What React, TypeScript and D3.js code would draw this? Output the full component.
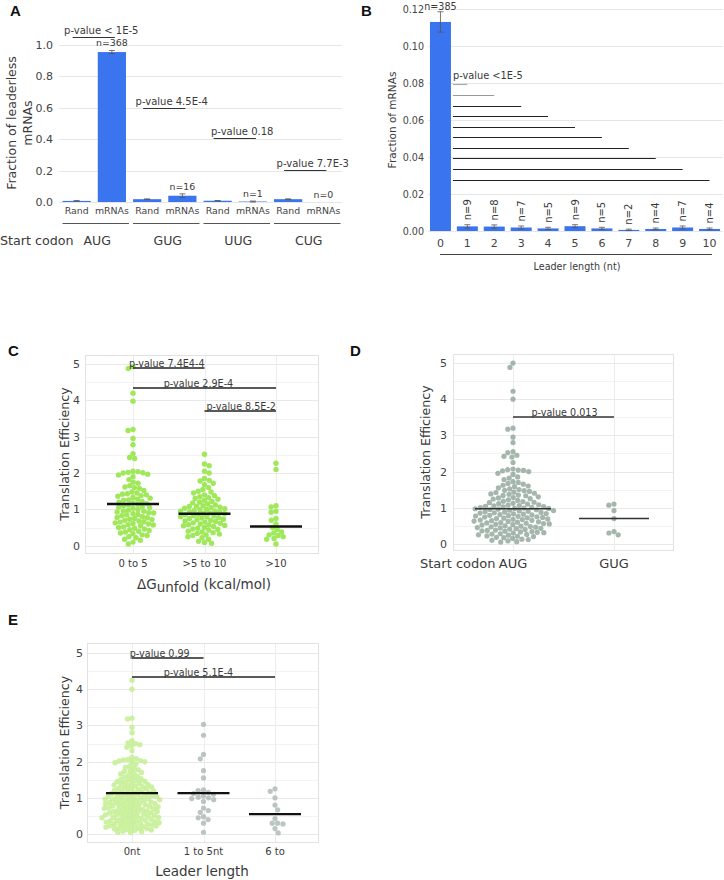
import React, { useEffect, useRef } from "react";
import * as d3 from "d3";

const FONT = "'DejaVu Sans', Verdana, sans-serif";
const BLUE = "#3b74ef";
const TXT = "#3a3a3a";

// ---- panel A : start codon of leaderless mRNAs
const startCodons = ["AUG", "GUG", "UUG", "CUG"];
const sampleTypes = ["Rand", "mRNAs"];
const randFraction = [0.007, 0.018, 0.008, 0.018];
const randErr = [0.002, 0.002, 0.001, 0.002];
const mrnaFraction = [0.955, 0.04, 0.003, 0];
const mrnaErr = [0.01, 0.012, 0.003, 0];
const mrnaCounts = [368, 16, 1, 0];
const pTextA = ["p-value < 1E-5", "p-value 4.5E-4", "p-value 0.18", "p-value 7.7E-3"];
const pLevelA = [1.05, 0.6, 0.41, 0.205];
const ticksA = [0, 0.2, 0.4, 0.6, 0.8, 1.0];

// ---- panel B : leader length
const leaderLengths = ["0", "1", "2", "3", "4", "5", "6", "7", "8", "9", "10"];
const leaderFraction = [0.113, 0.0025, 0.0024, 0.0019, 0.0014, 0.0026, 0.0014, 0.0006, 0.0011, 0.0019, 0.0011];
const leaderErr = [0.0055, 0.0009, 0.0009, 0.0008, 0.0006, 0.0008, 0.0006, 0.0004, 0.0005, 0.0008, 0.0005];
const leaderCounts = [385, 9, 8, 7, 5, 9, 5, 2, 4, 7, 4];
const pLevelB = [0.0795, 0.0735, 0.0676, 0.0622, 0.0562, 0.0508, 0.0449, 0.0395, 0.0335, 0.0276];
const ticksB = [0, 0.02, 0.04, 0.06, 0.08, 0.1, 0.12];

// ---- panel C : dG unfold
const dgGroups = ["0 to 5", ">5 to 10", ">10"];
const teDg0to5 = [4.93, 4.88, 4.2, 3.98, 3.2, 3.17, 2.95, 2.78, 2.53, 2.43, 2.4,
  2.05, 2.04, 2.02, 2.01, 2.0, 1.97, 1.95, 1.9, 1.82, 1.75, 1.72, 1.65, 1.62, 1.6, 1.58,
  1.52, 1.48, 1.45, 1.43, 1.42, 1.4, 1.38, 1.36, 1.33, 1.31, 1.28, 1.26, 1.25, 1.22, 1.2,
  1.18, 1.16, 1.14, 1.12, 1.1, 1.08, 1.06, 1.05, 1.03, 1.0, 0.98, 0.96, 0.95, 0.93, 0.91,
  0.9, 0.88, 0.86, 0.85, 0.83, 0.8, 0.78, 0.77, 0.75, 0.73, 0.72, 0.7, 0.68, 0.66, 0.65,
  0.63, 0.61, 0.6, 0.58, 0.57, 0.55, 0.52, 0.5, 0.48, 0.46, 0.44, 0.42, 0.4, 0.38, 0.35,
  0.33, 0.3, 0.28, 0.25, 0.22, 0.18, 0.15, 0.1, 0.05];
const teDg5to10 = [2.52, 2.25, 2.2, 2.05, 2.0, 1.85, 1.8, 1.78, 1.72, 1.68, 1.6, 1.55, 1.5,
  1.48, 1.45, 1.4, 1.38, 1.35, 1.32, 1.3, 1.28, 1.25, 1.22, 1.2, 1.18, 1.15, 1.12, 1.1, 1.09,
  1.08, 1.06, 1.05, 1.03, 1.02, 1.0, 0.99, 0.97, 0.96, 0.95, 0.93, 0.92, 0.9, 0.89, 0.88,
  0.86, 0.85, 0.83, 0.82, 0.8, 0.79, 0.78, 0.76, 0.75, 0.73, 0.72, 0.7, 0.68, 0.67, 0.65,
  0.63, 0.62, 0.6, 0.58, 0.57, 0.56, 0.55, 0.53, 0.5, 0.48, 0.46, 0.45, 0.43, 0.4, 0.38,
  0.36, 0.34, 0.32, 0.3, 0.28, 0.25, 0.22, 0.18, 0.12, 0.09, 0.07];
const teDgOver10 = [2.27, 2.1, 1.1, 1.07, 0.95, 0.92, 0.75, 0.7, 0.6, 0.5, 0.45, 0.38, 0.35,
  0.3, 0.28, 0.25, 0.2, 0.18, 0.05];
const dgMeans = [1.15, 0.88, 0.53];
const dgPValues = ["p-value 7.4E4-4", "p-value 2.9E-4", "p-value 8.5E-2"];
const dgPLevels = [4.89, 4.34, 3.71];

// ---- panel D : start codon TE
const codonGroups = ["AUG", "GUG"];
const teAug = [5.0, 4.88, 4.22, 4.0, 3.2, 3.17, 2.95, 2.8, 2.55, 2.52, 2.45, 2.42, 2.4, 2.25,
  2.07, 2.05, 2.04, 2.03, 2.02, 2.0, 1.95, 1.92, 1.85, 1.82, 1.78, 1.72, 1.7, 1.67, 1.65,
  1.62, 1.6, 1.58, 1.55, 1.52, 1.5, 1.48, 1.47, 1.45, 1.43, 1.42, 1.4, 1.38, 1.37, 1.35,
  1.34, 1.33, 1.3, 1.28, 1.27, 1.25, 1.24, 1.22, 1.2, 1.18, 1.17, 1.15, 1.14, 1.12, 1.11,
  1.1, 1.08, 1.07, 1.06, 1.05, 1.04, 1.03, 1.02, 1.01, 1.0, 0.99, 0.98, 0.98, 0.97, 0.96,
  0.95, 0.94, 0.93, 0.92, 0.91, 0.9, 0.89, 0.88, 0.87, 0.86, 0.85, 0.84, 0.83, 0.82, 0.81,
  0.8, 0.79, 0.78, 0.77, 0.76, 0.75, 0.74, 0.73, 0.72, 0.71, 0.7, 0.69, 0.68, 0.67, 0.66,
  0.65, 0.64, 0.63, 0.62, 0.61, 0.6, 0.59, 0.58, 0.57, 0.56, 0.55, 0.54, 0.53, 0.52, 0.5,
  0.49, 0.48, 0.47, 0.46, 0.45, 0.44, 0.43, 0.42, 0.41, 0.4, 0.38, 0.37, 0.36, 0.35, 0.34,
  0.33, 0.32, 0.31, 0.3, 0.28, 0.27, 0.26, 0.25, 0.24, 0.22, 0.21, 0.2, 0.18, 0.17, 0.15,
  0.13, 0.12, 0.1, 0.08, 0.06, 0.05];
const teGug = [1.1, 1.07, 0.92, 0.7, 0.34, 0.3, 0.25];
const codonMeans = [0.97, 0.7];
const codonPLevel = 3.51;

// ---- panel E : leader length TE
const leaderGroups = ["0nt", "1 to 5nt", "6 to"];
const te0nt = [4.25, 4.0, 3.2, 3.18, 2.95, 2.8, 2.58, 2.52, 2.5, 2.47, 2.44, 2.4, 2.3, 2.12,
  2.08, 2.06, 2.05, 2.03, 2.02, 2.0, 1.99, 1.97, 1.93, 1.88, 1.85, 1.82, 1.78, 1.75, 1.73,
  1.7, 1.68, 1.66, 1.63, 1.6, 1.58, 1.56, 1.53, 1.51, 1.5, 1.48, 1.46, 1.45, 1.43, 1.41, 1.4,
  1.38, 1.37, 1.36, 1.34, 1.33, 1.31, 1.3, 1.29, 1.27, 1.26, 1.25, 1.23, 1.22, 1.21, 1.19,
  1.18, 1.17, 1.15, 1.14, 1.13, 1.12, 1.1, 1.09, 1.08, 1.07, 1.06, 1.05, 1.04, 1.03, 1.02,
  1.01, 1.0, 0.99, 0.98, 0.97, 0.96, 0.95, 0.94, 0.93, 0.92, 0.91, 0.9, 0.89, 0.88, 0.87,
  0.86, 0.85, 0.84, 0.83, 0.82, 0.81, 0.8, 0.79, 0.78, 0.77, 0.76, 0.75, 0.74, 0.73, 0.72,
  0.71, 0.7, 0.69, 0.68, 0.67, 0.66, 0.65, 0.64, 0.63, 0.62, 0.61, 0.6, 0.59, 0.58, 0.57,
  0.56, 0.55, 0.54, 0.53, 0.52, 0.51, 0.5, 0.49, 0.48, 0.47, 0.46, 0.45, 0.44, 0.43, 0.42,
  0.41, 0.4, 0.39, 0.38, 0.37, 0.36, 0.35, 0.34, 0.33, 0.32, 0.31, 0.3, 0.29, 0.28, 0.27,
  0.26, 0.25, 0.24, 0.23, 0.22, 0.21, 0.2, 0.19, 0.18, 0.17, 0.16, 0.15, 0.14, 0.12, 0.11,
  0.1, 0.08, 0.07, 0.05, 0.04];
const te1to5 = [3.03, 2.73, 2.2, 2.08, 1.75, 1.55, 1.22, 1.2, 1.15, 1.12, 1.1, 1.05, 1.02,
  1.0, 0.98, 0.95, 0.9, 0.72, 0.65, 0.6, 0.48, 0.45, 0.4, 0.3, 0.05];
const te6plus = [1.25, 1.18, 1.0, 0.8, 0.67, 0.43, 0.3, 0.3, 0.28, 0.15, 0.03];
const leaderMeans = [1.13, 1.13, 0.55];
const leaderPValues = ["p-value 0.99", "p-value 5.1E-4"];
const leaderPLevels = [4.866, 4.34];

const teTicks = [0, 1, 2, 3, 4, 5];

// simple beeswarm: push each dot sideways until it stops touching the others
function swarm(values: number[], y: (v: number) => number, dist: number) {
  const pts = values.map((v) => ({ v, y: y(v), x: 0 })).sort((a, b) => a.y - b.y);
  const placed: { v: number; y: number; x: number }[] = [];
  pts.forEach((p, i) => {
    const cands = [0];
    placed.forEach((q) => {
      const dy = Math.abs(q.y - p.y);
      if (dy < dist) {
        const dx = Math.sqrt(dist * dist - dy * dy);
        cands.push(q.x + dx, q.x - dx);
      }
    });
    const sgn = i % 2 ? 1 : -1;
    cands.sort((a, b) => Math.abs(a) - Math.abs(b) || sgn * (a - b));
    for (const c of cands) {
      if (placed.every((q) => (q.x - c) ** 2 + (q.y - p.y) ** 2 >= dist * dist - 0.01)) {
        p.x = c;
        break;
      }
    }
    placed.push(p);
  });
  return placed;
}

function panelLetter(svg: any, t: string, x: number, y: number) {
  svg.append("text").attr("x", x).attr("y", y).text(t)
    .attr("font-family", "'Liberation Sans', Arial, sans-serif")
    .attr("font-weight", "bold").attr("font-size", 15).attr("fill", "#111");
}

const crisp = (v: number) => Math.round(v) + 0.5;

function drawPanelA(svg: any) {
  const g = svg.append("g");
  const keys: string[] = [];
  startCodons.forEach((c) => sampleTypes.forEach((s) => keys.push(c + "|" + s)));
  const x = d3.scaleBand().domain(keys).range([59, 341]).paddingInner(0.2).paddingOuter(0.1);
  const y = d3.scaleLinear().domain([0, 1]).range([202, 45]);

  ticksA.forEach((t) => {
    g.append("line").attr("x1", 59).attr("x2", 342).attr("y1", crisp(y(t))).attr("y2", crisp(y(t)))
      .attr("stroke", "#e6e6e6");
    g.append("text").attr("x", 53).attr("y", y(t) + 4).attr("text-anchor", "end")
      .attr("font-size", 11).attr("fill", "#444").text(d3.format(".1f")(t));
  });

  startCodons.forEach((c, i) => {
    const vals = [randFraction[i], mrnaFraction[i]];
    const errs = [randErr[i], mrnaErr[i]];
    sampleTypes.forEach((s, j) => {
      const k = c + "|" + s;
      const bx = x(k) as number;
      g.append("rect").attr("x", bx).attr("width", x.bandwidth())
        .attr("y", y(vals[j])).attr("height", Math.max(0, 202 - y(vals[j]))).attr("fill", BLUE);
      if (errs[j] > 0) {
        const cx = bx + x.bandwidth() / 2;
        g.append("path").attr("d", `M${cx - 3},${y(vals[j] + errs[j])}h6M${cx},${y(vals[j] + errs[j])}V${y(vals[j] - errs[j])}M${cx - 3},${y(vals[j] - errs[j])}h6`)
          .attr("stroke", "#555").attr("stroke-width", 0.8).attr("fill", "none");
      }
      g.append("text").attr("x", bx + x.bandwidth() / 2).attr("y", 214).attr("text-anchor", "middle")
        .attr("font-size", 9.4).attr("fill", "#444").text(s);
    });
    const mx = (x(c + "|mRNAs") as number) + x.bandwidth() / 2;
    g.append("text").attr("x", mx).attr("y", y(mrnaFraction[i] + mrnaErr[i]) - 4)
      .attr("text-anchor", "middle").attr("font-size", 9.4).attr("fill", TXT)
      .text("n=" + mrnaCounts[i]);

    const rx = (x(c + "|Rand") as number) + x.bandwidth() / 2;
    const ly = crisp(y(pLevelA[i]));
    g.append("line").attr("x1", rx - 4).attr("x2", mx + 3).attr("y1", ly).attr("y2", ly)
      .attr("stroke", "#333").attr("stroke-width", 1);
    g.append("text").attr("x", (rx + mx) / 2 + 7).attr("y", ly - 4).attr("text-anchor", "middle")
      .attr("font-size", 10).attr("fill", TXT).text(pTextA[i]);

    const gx0 = x(c + "|Rand") as number;
    const gx1 = (x(c + "|mRNAs") as number) + x.bandwidth();
    g.append("line").attr("x1", gx0).attr("x2", gx1 + 3).attr("y1", 223.5).attr("y2", 223.5)
      .attr("stroke", "#555").attr("stroke-width", 1);
    g.append("text").attr("x", (gx0 + gx1) / 2 + 3).attr("y", 245).attr("text-anchor", "middle")
      .attr("font-size", 12.5).attr("fill", TXT).text(c);
  });

  g.append("text").attr("x", 0).attr("y", 245).attr("font-size", 12.7).attr("fill", TXT)
    .text("Start codon");
  const yt = g.append("text").attr("transform", "translate(19,123) rotate(-90)")
    .attr("text-anchor", "middle").attr("font-size", 12.5).attr("fill", TXT);
  yt.append("tspan").attr("x", 0).attr("dy", -3).text("Fraction of leaderless");
  yt.append("tspan").attr("x", 0).attr("dy", 15.5).text("mRNAs");
}

function drawPanelB(svg: any) {
  const g = svg.append("g");
  const x = d3.scaleBand().domain(leaderLengths).range([427, 723]).paddingInner(0.22).paddingOuter(0.11);
  const y = d3.scaleLinear().domain([0, 0.12]).range([231, 9]);
  const cx = (k: string) => (x(k) as number) + x.bandwidth() / 2;

  ticksB.forEach((t) => {
    g.append("line").attr("x1", 428).attr("x2", 723).attr("y1", crisp(y(t))).attr("y2", crisp(y(t)))
      .attr("stroke", "#e6e6e6");
    g.append("text").attr("x", 424).attr("y", y(t) + 3.5).attr("text-anchor", "end")
      .attr("font-size", 9.6).attr("fill", "#444").text(d3.format(".2f")(t));
  });

  leaderLengths.forEach((k, i) => {
    const v = leaderFraction[i];
    g.append("rect").attr("x", x(k)).attr("width", x.bandwidth()).attr("y", y(v))
      .attr("height", 231 - y(v)).attr("fill", BLUE);
    const e = leaderErr[i];
    g.append("path").attr("d", `M${cx(k) - 3},${y(v + e)}h6M${cx(k)},${y(v + e)}V${y(v - e)}M${cx(k) - 3},${y(v - e)}h6`)
      .attr("stroke", "#555").attr("stroke-width", 0.8).attr("fill", "none");
    g.append("text").attr("x", cx(k)).attr("y", 247).attr("text-anchor", "middle")
      .attr("font-size", 11).attr("fill", "#444").text(k);
    if (i === 0) {
      g.append("text").attr("x", cx(k)).attr("y", y(v + e) - 2).attr("text-anchor", "middle")
        .attr("font-size", 9.6).attr("fill", TXT).text("n=" + leaderCounts[i]);
    } else {
      g.append("text").attr("transform", `translate(${cx(k) + 3.5},${y(v + e) - 15}) rotate(-90)`)
        .attr("text-anchor", "middle").attr("font-size", 10).attr("fill", TXT)
        .text("n=" + leaderCounts[i]);
    }
  });

  const x0 = (x("0") as number) + x.bandwidth() + 2;
  leaderLengths.slice(1).forEach((k, i) => {
    const ly = crisp(y(pLevelB[i]));
    g.append("line").attr("x1", x0).attr("x2", cx(k)).attr("y1", ly).attr("y2", ly)
      .attr("stroke", i === 0 ? "#aaa" : i === 1 ? "#999" : "#222").attr("stroke-width", 1.2);
  });
  g.append("text").attr("x", x0).attr("y", y(pLevelB[0]) - 5).attr("font-size", 9.8)
    .attr("fill", TXT).text("p-value <1E-5");

  g.append("line").attr("x1", 440).attr("x2", 712).attr("y1", 254.5).attr("y2", 254.5)
    .attr("stroke", "#444");
  g.append("text").attr("x", 577).attr("y", 270).attr("text-anchor", "middle")
    .attr("font-size", 9.6).attr("fill", TXT).text("Leader length (nt)");
  g.append("text").attr("transform", "translate(396,120) rotate(-90)").attr("text-anchor", "middle")
    .attr("font-size", 10.5).attr("fill", TXT).text("Fraction of mRNAs");
}

type Group = { values: number[]; color: string; opacity: number; r: number; dist: number; mean: number };
type PBar = { from: number; to: number; level: number; text: string; textDx: number };

function drawSwarmPanel(svg: any, o: {
  left: number; right: number; top: number; bottom: number; yDomain: [number, number];
  catX: [number, number]; cats: string[]; groups: Group[]; meanHalf: number[]; meanWidth: number;
  meanColor: string; pbars: PBar[]; pColor: string; pWidth: number; tickX: number;
  catFont: number; catY: number; yTitleX: number;
}) {
  const g = svg.append("g");
  const y = d3.scaleLinear().domain(o.yDomain).range([o.bottom, o.top]);
  const x = d3.scalePoint().domain(o.cats).range(o.catX);

  for (let v = 0.5; v < o.yDomain[1]; v += 1) {
    g.append("line").attr("x1", o.left).attr("x2", o.right).attr("y1", crisp(y(v))).attr("y2", crisp(y(v)))
      .attr("stroke", "#f3f3f3");
  }
  teTicks.forEach((t) => {
    g.append("line").attr("x1", o.left).attr("x2", o.right).attr("y1", crisp(y(t))).attr("y2", crisp(y(t)))
      .attr("stroke", "#e9e9e9");
    g.append("text").attr("x", o.tickX).attr("y", y(t) + 4).attr("text-anchor", "end")
      .attr("font-size", 11).attr("fill", "#444").text(t);
  });
  o.cats.forEach((c) => {
    const cx = crisp(x(c) as number);
    g.append("line").attr("x1", cx).attr("x2", cx).attr("y1", o.top).attr("y2", o.bottom)
      .attr("stroke", "#ececec");
  });
  g.append("rect").attr("x", o.left + 0.5).attr("y", o.top + 0.5).attr("width", o.right - o.left)
    .attr("height", o.bottom - o.top).attr("fill", "none").attr("stroke", "#e2e2e2");

  o.groups.forEach((gr, i) => {
    const cx = x(o.cats[i]) as number;
    const pts = swarm(gr.values, y, gr.dist);
    g.append("g").selectAll("circle").data(pts).join("circle")
      .attr("cx", (d: any) => cx + d.x).attr("cy", (d: any) => d.y).attr("r", gr.r)
      .attr("fill", gr.color).attr("fill-opacity", gr.opacity);
    g.append("line").attr("x1", cx - o.meanHalf[i]).attr("x2", cx + o.meanHalf[i])
      .attr("y1", y(gr.mean)).attr("y2", y(gr.mean))
      .attr("stroke", o.meanColor).attr("stroke-width", o.meanWidth);
    g.append("text").attr("x", cx).attr("y", o.catY).attr("text-anchor", "middle")
      .attr("font-size", o.catFont).attr("fill", TXT).text(o.cats[i]);
  });

  o.pbars.forEach((p) => {
    const x1 = x(o.cats[p.from]) as number;
    const x2 = x(o.cats[p.to]) as number;
    const ly = Math.round(y(p.level));
    g.append("line").attr("x1", x1).attr("x2", x2).attr("y1", ly).attr("y2", ly)
      .attr("stroke", o.pColor).attr("stroke-width", o.pWidth);
    g.append("text").attr("x", (x1 + x2) / 2 + p.textDx).attr("y", ly - 1.5)
      .attr("text-anchor", "middle").attr("font-size", 9.6).attr("fill", TXT).text(p.text);
  });

  g.append("text").attr("transform", `translate(${o.yTitleX},${(o.top + o.bottom) / 2}) rotate(-90)`)
    .attr("text-anchor", "middle").attr("font-size", 12.6).attr("fill", TXT)
    .text("Translation Efficiency");
  return g;
}

const App = () => {
  const ref = useRef<SVGSVGElement>(null);

  useEffect(() => {
    const svg = d3.select(ref.current);
    svg.selectAll("*").remove();
    svg.attr("font-family", FONT);

    panelLetter(svg, "A", 10, 16);
    panelLetter(svg, "B", 361, 16);
    panelLetter(svg, "C", 8, 356);
    panelLetter(svg, "D", 350, 356);
    panelLetter(svg, "E", 8, 625);

    drawPanelA(svg);
    drawPanelB(svg);

    const green = "#9fe85a";
    const gC = drawSwarmPanel(svg, {
      left: 85, right: 318, top: 355, bottom: 553, yDomain: [-0.2, 5.25], catX: [133, 276],
      cats: dgGroups,
      groups: [
        { values: teDg0to5, color: green, opacity: 1, r: 2.7, dist: 5.0, mean: dgMeans[0] },
        { values: teDg5to10, color: green, opacity: 1, r: 2.7, dist: 5.0, mean: dgMeans[1] },
        { values: teDgOver10, color: green, opacity: 1, r: 2.7, dist: 5.0, mean: dgMeans[2] },
      ],
      meanHalf: [26, 26, 26], meanWidth: 2.4, meanColor: "#111",
      pbars: [
        { from: 0, to: 1, level: dgPLevels[0], text: dgPValues[0], textDx: -2 },
        { from: 0, to: 2, level: dgPLevels[1], text: dgPValues[1], textDx: -6 },
        { from: 1, to: 2, level: dgPLevels[2], text: dgPValues[2], textDx: 1 },
      ],
      pColor: "#222", pWidth: 1.5, tickX: 80, catFont: 10, catY: 567, yTitleX: 69,
    });
    const xt = gC.append("text").attr("x", 204).attr("y", 589).attr("text-anchor", "middle")
      .attr("font-size", 13.5).attr("fill", TXT);
    xt.append("tspan").text("ΔG");
    xt.append("tspan").attr("dy", 2.5).text("unfold");
    xt.append("tspan").attr("dy", -2.5).text(" (kcal/mol)");

    const gD = drawSwarmPanel(svg, {
      left: 453, right: 673, top: 354, bottom: 550, yDomain: [-0.17, 5.25], catX: [513, 614],
      cats: codonGroups,
      groups: [
        { values: teAug, color: "#8ea497", opacity: 0.8, r: 2.6, dist: 5.3, mean: codonMeans[0] },
        { values: teGug, color: "#8ea497", opacity: 0.8, r: 2.6, dist: 5.3, mean: codonMeans[1] },
      ],
      meanHalf: [38, 35], meanWidth: 1.4, meanColor: "#333",
      pbars: [{ from: 0, to: 1, level: codonPLevel, text: "p-value 0.013", textDx: 1 }],
      pColor: "#333", pWidth: 1.4, tickX: 447, catFont: 13, catY: 568, yTitleX: 430,
    });
    gD.append("text").attr("x", 420).attr("y", 568).attr("font-size", 13).attr("fill", TXT)
      .text("Start codon");

    const gray = "#b4c0bc";
    const gE = drawSwarmPanel(svg, {
      left: 87, right: 318, top: 643, bottom: 842, yDomain: [-0.22, 5.28], catX: [132, 275],
      cats: leaderGroups,
      groups: [
        { values: te0nt, color: "#c4ef92", opacity: 0.85, r: 2.7, dist: 4.5, mean: leaderMeans[0] },
        { values: te1to5, color: gray, opacity: 0.9, r: 2.6, dist: 5.4, mean: leaderMeans[1] },
        { values: te6plus, color: gray, opacity: 0.9, r: 2.6, dist: 5.4, mean: leaderMeans[2] },
      ],
      meanHalf: [26, 26, 26], meanWidth: 2.4, meanColor: "#111",
      pbars: [
        { from: 0, to: 1, level: leaderPLevels[0], text: leaderPValues[0], textDx: -8 },
        { from: 0, to: 2, level: leaderPLevels[1], text: leaderPValues[1], textDx: -5 },
      ],
      pColor: "#222", pWidth: 1.5, tickX: 83, catFont: 10, catY: 855, yTitleX: 69,
    });
    gE.append("text").attr("x", 202).attr("y", 876).attr("text-anchor", "middle")
      .attr("font-size", 13.5).attr("fill", TXT).text("Leader length");
  }, []);

  return (
    <svg ref={ref} width={724} height={880}
      style={{ position: "absolute", left: 0, top: 0, background: "#fff" }} />
  );
};

export default App;
